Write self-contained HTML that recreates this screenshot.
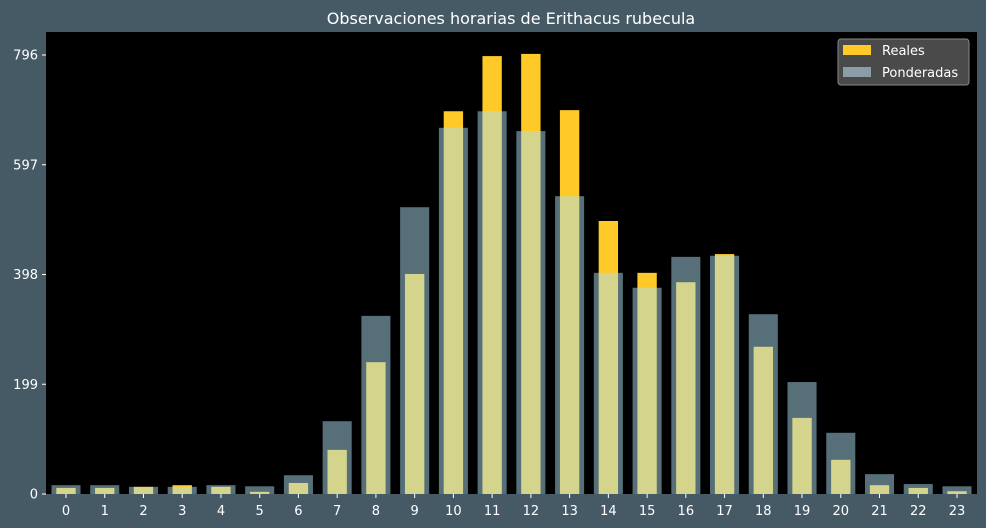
<!DOCTYPE html>
<html><head><meta charset="utf-8"><style>
body{margin:0;background:#465a66;}
svg{display:block;font-family:"DejaVu Sans","Liberation Sans",sans-serif;}
</style></head><body>
<svg id="c" width="986" height="528">
<rect x="0" y="0" width="986" height="528" fill="#465a66"/>
<text x="511" y="24" text-anchor="middle" fill="#ffffff" font-size="16">Observaciones horarias de Erithacus rubecula</text>
<rect x="46" y="32" width="931" height="462" fill="#000000"/>
<g id="bars"></g>
<g id="axes"></g>
<g>
<rect x="838" y="39" width="131" height="46" rx="3" fill="#4a4a4a" stroke="#888"/>
<rect x="843" y="45" width="28" height="10" fill="#ffca28"/>
<text x="882" y="55" fill="#fff" font-size="13">Reales</text>
<rect x="843" y="67" width="28" height="10" fill="#8b9ea6"/>
<text x="882" y="77" fill="#fff" font-size="13">Ponderadas</text>
</g>
</svg>
<script>
const hours=[0,1,2,3,4,5,6,7,8,9,10,11,12,13,14,15,16,17,18,19,20,21,22,23];
const reales=[11,11,13,16,13,4,20,80,239,399,694,794,798,696,495,401,384,435,267,138,62,16,11,5];
const ponderadas=[16,16,13,13,16,14,34,132,323,520,664,694,658,540,401,374,430,432,326,203,111,36,18,14];
const yTicks=[0,199,398,597,796];
const x0=46,x1=977,yBase=494,yTop=55;
const step=(957-66)/23;
function xs(i){return 66+i*step;}
function ys(v){return yBase-(v/796)*(yBase-yTop);}
const NS="http://www.w3.org/2000/svg";
const bars=document.getElementById('bars'),axes=document.getElementById('axes');
function mk(tag,attrs,parent){const e=document.createElementNS(NS,tag);for(const k in attrs)e.setAttribute(k,attrs[k]);parent.appendChild(e);return e;}
hours.forEach((h,i)=>{
  const w=step*0.5;
  const r=mk('rect',{x:xs(i)-w/2,y:ys(reales[i]),width:w,height:yBase-ys(reales[i]),fill:'#ffca28'},bars);
  
  
});
hours.forEach((h,i)=>{
  const w=step*0.75;
  const r=mk('rect',{x:xs(i)-w/2,y:ys(ponderadas[i]),width:w,height:yBase-ys(ponderadas[i]),fill:'rgb(172,222,240)','fill-opacity':0.5},bars);
  
  
});
hours.forEach((h,i)=>{
  mk('line',{x1:xs(i),x2:xs(i),y1:yBase,y2:yBase+4,stroke:'#fff'},axes);
  const t=mk('text',{x:xs(i),y:515,'text-anchor':'middle',fill:'#fff','font-size':13},axes);
  t.textContent=h;
  
  
});
yTicks.forEach(v=>{
  mk('line',{x1:x0-4,x2:x0,y1:ys(v),y2:ys(v),stroke:'#fff'},axes);
  const t=mk('text',{x:x0-8,y:ys(v)+4.5,'text-anchor':'end',fill:'#fff','font-size':13},axes);
  t.textContent=v;
  
  
});
</script>
</body></html>
